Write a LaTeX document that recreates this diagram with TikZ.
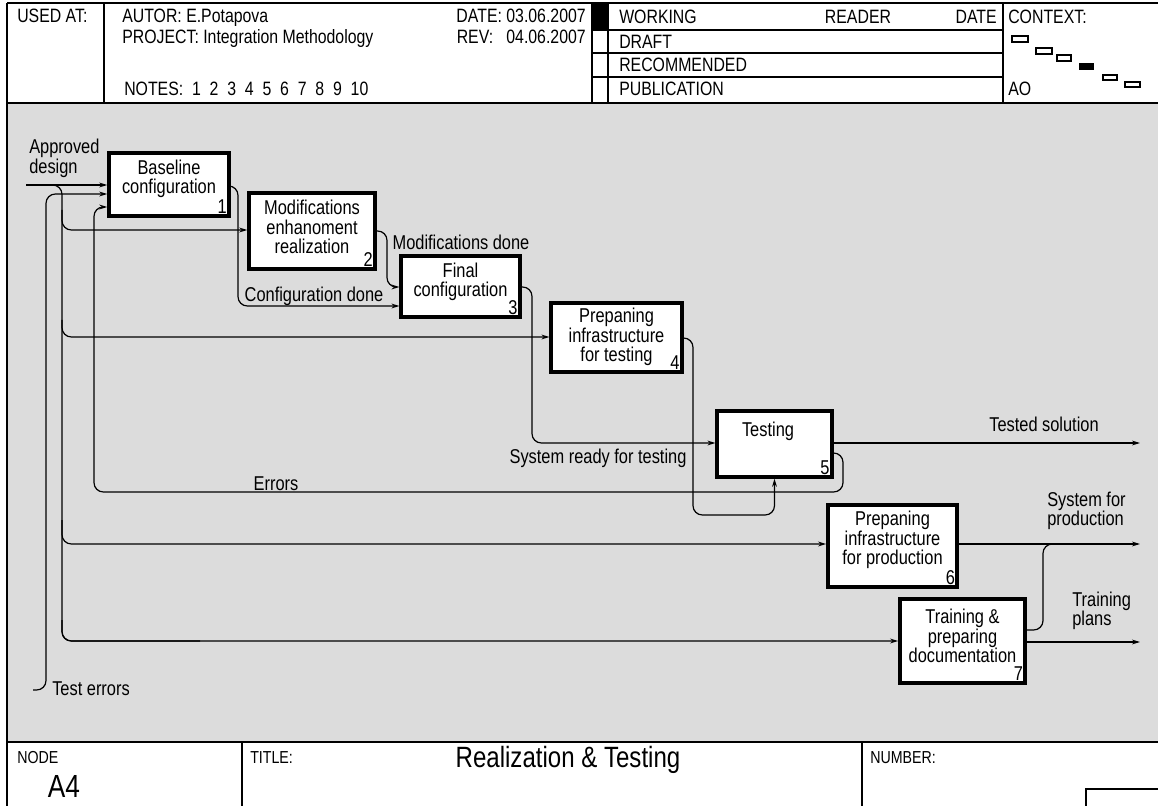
\documentclass[tikz,border=0pt]{standalone}
\usepackage{fontspec}
\setmainfont{Liberation Sans}[FakeStretch=0.82]
\usetikzlibrary{arrows.meta}
\definecolor{sheetgray}{RGB}{220,220,220}
\tikzset{
  act/.style={rectangle,draw,fill=white,line width=2.6pt,inner sep=0pt},
  acttxt/.style={align=center,font=\fontsize{15}{14.6}\selectfont,inner sep=0pt},
  actnum/.style={anchor=south east,font=\fontsize{15}{15}\selectfont,inner sep=2.8pt},
  lbl/.style={font=\fontsize{15}{14.6}\selectfont,inner sep=0pt},
  hdr/.style={font=\fontsize{14.5}{15}\selectfont,inner sep=0pt},
  ftr/.style={font=\fontsize{13}{14}\selectfont,inner sep=0pt},
  arr/.style={line width=0.9pt,rounded corners=7pt,-{Stealth[length=6pt,width=3.6pt]}},
  pipe/.style={line width=0.9pt,rounded corners=7pt},
}
\begin{document}
\begin{tikzpicture}[x=0.75pt,y=-0.75pt]
\useasboundingbox (0,0) rectangle (1158,806);
\fill [sheetgray] (7,103) rectangle (1158,742);

% frame, header and footer
\draw [line width=1pt] (7,3) -- (1158,3);
\draw [line width=1pt] (7,103) -- (1158,103);
\draw [line width=1.4pt] (7,742) -- (1158,742);
\draw [line width=2.2pt] (7,3) -- (7,806);
\draw [line width=1pt] (104,3) -- (104,103);
\draw [line width=1pt] (592,3) -- (592,103);
\draw [line width=1pt] (608,3) -- (608,103);
\draw [line width=1pt] (1003,3) -- (1003,103);
\draw [line width=1pt] (592,30) -- (1003,30);
\draw [line width=1pt] (592,53) -- (1003,53);
\draw [line width=1pt] (592,77) -- (1003,77);
\fill (592,3) rectangle (608,30);
\draw [line width=1pt] (242,742) -- (242,806);
\draw [line width=1pt] (862,742) -- (862,806);
\draw [line width=1pt] (1086,806) -- (1086,789) -- (1158,789);

\node (usedat) at (17,23) [hdr,anchor=base west] {USED AT:};
\node (autor) at (122,23) [hdr,anchor=base west] {AUTOR: E.Potapova};
\node (project) at (122,44) [hdr,anchor=base west] {PROJECT: Integration Methodology};
\node (notes) at (124,96) [hdr,anchor=base west] {NOTES:\ \ 1\ \ 2\ \ 3\ \ 4\ \ 5\ \ 6\ \ 7\ \ 8\ \ 9\ \ 10};
\node (date) at (586,23) [hdr,anchor=base east] {DATE: 03.06.2007};
\node (rev) at (586,44) [hdr,anchor=base east] {REV:\ \ \ 04.06.2007};
\node (working) at (619,24) [hdr,anchor=base west] {WORKING};
\node (reader) at (858,24) [hdr,anchor=base] {READER};
\node (rdate) at (997,24) [hdr,anchor=base east] {DATE};
\node (draft) at (619,49) [hdr,anchor=base west] {DRAFT};
\node (recom) at (619,72) [hdr,anchor=base west] {RECOMMENDED};
\node (public) at (619,96) [hdr,anchor=base west] {PUBLICATION};
\node (context) at (1008,24) [hdr,anchor=base west] {CONTEXT:};
\node (ao) at (1008,96) [hdr,anchor=base west] {AO};
\draw [line width=0.8pt] (1012,36) rectangle (1028,42);
\draw [line width=0.8pt] (1036,48) rectangle (1052,54);
\draw [line width=0.8pt] (1057,55) rectangle (1071,61);
\fill (1079,63) rectangle (1094,70);
\draw [line width=0.8pt] (1103,75) rectangle (1117,80);
\draw [line width=0.8pt] (1125,82) rectangle (1140,87);

\node (nodelbl) at (17,763) [ftr,anchor=base west] {NODE};
\node (nodeid) at (64,797) [font=\fontsize{24}{26}\selectfont,inner sep=0pt,anchor=base] {A4};
\node (titlelbl) at (250,763) [ftr,anchor=base west] {TITLE:};
\node (title) at (568,767) [font=\fontsize{22}{24}\selectfont,inner sep=0pt,anchor=base] {Realization \& Testing};
\node (numlbl) at (870,763) [ftr,anchor=base west] {NUMBER:};

% activities
\node (b1) at (169,184.5) [act,minimum width=90pt,minimum height=47pt] {};
\node (b2) at (312,231) [act,minimum width=94.5pt,minimum height=57pt] {};
\node (b3) at (460.5,286.5) [act,minimum width=89pt,minimum height=46pt] {};
\node (b4) at (616.5,337.5) [act,minimum width=98pt,minimum height=52pt] {};
\node (b5) at (774.5,444) [act,minimum width=86pt,minimum height=49.5pt] {};
\node (b6) at (892.5,546) [act,minimum width=97pt,minimum height=61.5pt] {};
\node (b7) at (962.5,641) [act,minimum width=94pt,minimum height=63pt] {};
\node (t1) at (169,179) [acttxt] {Baseline\\configuration};
\node (t2) at (312,227) [acttxt] {Modifications\\enhanoment\\realization};
\node (t3) at (460.5,282) [acttxt] {Final\\configuration};
\node (t4) at (616.5,337) [acttxt] {Prepaning\\infrastructure\\for testing};
\node (t5) at (768,431) [acttxt] {Testing};
\node (t6) at (892.5,540) [acttxt] {Prepaning\\infrastructure\\for production};
\node (t7) at (962.5,636) [acttxt] {Training \&\\preparing\\documentation};
\node (n1) at (b1.south east) [actnum] {1};
\node (n2) at (b2.south east) [actnum] {2};
\node (n3) at (b3.south east) [actnum] {3};
\node (n4) at (b4.south east) [actnum] {4};
\node (n5) at (b5.south east) [actnum] {5};
\node (n6) at (b6.south east) [actnum] {6};
\node (n7) at (b7.south east) [actnum] {7};

% inputs
\coordinate (design) at (26,185);
\coordinate (testerr) at (33,690);
\draw [arr] (design) -- (b1.west |- design);
\draw [pipe] (48,185) -- (62,185) -- (62,641) -- (200,641);
\draw [arr] (62,210) -- (62,230) -- (b2.west |- 0,230);
\draw [arr] (62,320) -- (62,337) -- (b4.west |- 0,337);
\draw [arr] (62,520) -- (62,544) -- (b6.west |- 0,544);
\draw [arr] (62,620) -- (62,641) -- (b7.west);
\draw [arr] (testerr) -- (46,690) -- (46,194) -- (b1.west |- 0,194);

% flows between activities
\draw [arr] (b1.east |- 0,186) -- (238,186) -- (238,306) -- (b3.west |- 0,306);
\draw [arr] (b2.east) -- (387,231) -- (387,287) -- (b3.west |- 0,287);
\draw [arr] (b3.east |- 0,287) -- (532,287) -- (532,443) -- (b5.west |- 0,443);
\draw [arr] (b4.east |- 0,338) -- (693,338) -- (693,515) -- (774.5,515) -- (b5.south);
\draw [arr] (b5.east |- 0,453) -- (843,453) -- (843,492) -- (94,492) -- (94,207) -- (b1.west |- 0,207);

% outputs
\coordinate (tested) at (1140,443);
\coordinate (sysprod) at (1140,544);
\coordinate (plans) at (1140,642);
\draw [arr] (b5.east |- tested) -- (tested);
\draw [arr] (b6.east |- sysprod) -- (sysprod);
\draw [pipe] (b7.east |- 0,630) -- (1043,630) -- (1043,544) -- (1065,544);
\draw [arr] (b7.east |- plans) -- (plans);

% arrow labels
\node (lbldesign) at (29,158.5) [lbl,anchor=west,align=left] {Approved\\design};
\node (lblcfg) at (314,296) [lbl] {Configuration done};
\node (lblmod) at (461,242) [lbl] {Modifications done};
\node (lblready) at (598,458) [lbl] {System ready for testing};
\node (lblerr) at (276,484) [lbl] {Errors};
\node (lbltested) at (1044,424) [lbl] {Tested solution};
\node (lblprod) at (1047,511) [lbl,anchor=west,align=left] {System for\\production};
\node (lblplans) at (1072,611) [lbl,anchor=west,align=left] {Training\\plans};
\node (lbltest) at (52,689) [lbl,anchor=west] {Test errors};
\end{tikzpicture}
\end{document}
